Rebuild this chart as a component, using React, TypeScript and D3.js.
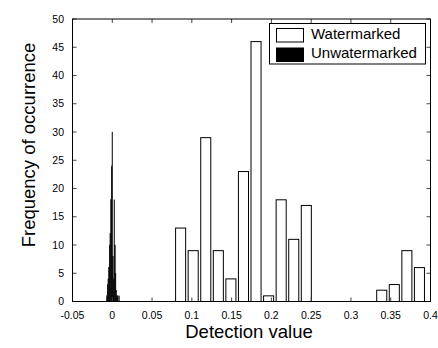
import React from 'react';
import * as d3 from 'd3';

// watermarked histogram: bin centres and counts (20 bins)
const wmCenters = [
  0.0859, 0.1017, 0.1175, 0.1333, 0.1491, 0.1649, 0.1807, 0.1965, 0.2123, 0.2281,
  0.2439, 0.2597, 0.2755, 0.2913, 0.3071, 0.3229, 0.3387, 0.3545, 0.3703, 0.3861,
];
const wmCounts = [13, 9, 29, 9, 4, 23, 46, 1, 18, 11, 17, 0, 0, 0, 0, 0, 2, 3, 9, 6];
const wmBinWidth = 0.0158;

// unwatermarked histogram: narrow spike around zero (20 bins)
const unCenters = [
  -0.0068, -0.006, -0.0051, -0.0043, -0.0034, -0.0026, -0.0017, -0.0009, 0.0, 0.0008,
  0.0017, 0.0025, 0.0034, 0.0042, 0.0051, 0.0059, 0.0068, 0.0076, 0.0085, 0.0093,
];
const unCounts = [1, 3, 4, 6, 10, 12, 18, 24, 30, 8, 4, 18, 10, 5, 2, 1, 1, 0, 1, 0];
const unBinWidth = 0.00085;

const xTicks = [-0.05, 0, 0.05, 0.1, 0.15, 0.2, 0.25, 0.3, 0.35, 0.4];
const xTickLabels = ['-0.05', '0', '0.05', '0.1', '0.15', '0.2', '0.25', '0.3', '0.35', '0.4'];
const yTicks = [0, 5, 10, 15, 20, 25, 30, 35, 40, 45, 50];

const legendItems = [
  { label: 'Watermarked', fill: '#fff' },
  { label: 'Unwatermarked', fill: '#000' },
];

const W = 438;
const H = 348;
const left = 72.5, right = 430.5, top = 19, bottom = 301.5;
const font = 'Arial, "Liberation Sans", Helvetica, sans-serif';

export default function App() {
  const x = d3.scaleLinear().domain([-0.05, 0.4]).range([left, right]);
  const y = d3.scaleLinear().domain([0, 50]).range([bottom, top]);
  const tickLen = 4;

  const barRect = (c: number, n: number, bw: number) => {
    const x0 = x(c - (bw * 0.8) / 2);
    const x1 = x(c + (bw * 0.8) / 2);
    return { x: x0, y: y(n), width: x1 - x0, height: y(0) - y(n) };
  };

  return (
    <svg width={W} height={H} style={{ position: 'absolute', left: 0, top: 0, background: '#fff' }}
      fontFamily={font}>
      {/* watermarked bars */}
      {wmCounts.map((n, i) => {
        if (n === 0) return null;
        const r = barRect(wmCenters[i], n, wmBinWidth);
        return <rect key={'w' + i} {...r} fill="#fff" stroke="#000" strokeWidth={1} />;
      })}
      {/* unwatermarked bars */}
      {unCounts.map((n, i) => {
        if (n === 0) return null;
        const r = barRect(unCenters[i], n, unBinWidth);
        return <rect key={'u' + i} {...r} fill="#000" stroke="#000" strokeWidth={0.5} />;
      })}

      {/* ticks, all pointing inward */}
      {xTicks.map((t, i) => (
        <g key={'xt' + i} stroke="#444" strokeWidth={1}>
          <line x1={x(t)} x2={x(t)} y1={bottom} y2={bottom - tickLen} />
          <line x1={x(t)} x2={x(t)} y1={top} y2={top + tickLen} />
        </g>
      ))}
      {yTicks.map((t, i) => (
        <g key={'yt' + i} stroke="#444" strokeWidth={1}>
          <line x1={left} x2={left + tickLen} y1={y(t)} y2={y(t)} />
          <line x1={right} x2={right - tickLen} y1={y(t)} y2={y(t)} />
        </g>
      ))}

      {/* frame */}
      <rect x={left} y={top} width={right - left} height={bottom - top} fill="none" stroke="#000" strokeWidth={1} />

      {/* tick labels */}
      {xTicks.map((t, i) => (
        <text key={'xl' + i} x={x(t)} y={318.5} textAnchor="middle" fontSize={10.5} fill="#000">
          {xTickLabels[i]}
        </text>
      ))}
      {yTicks.map((t, i) => (
        <text key={'yl' + i} x={64} y={y(t)} dy="0.35em" textAnchor="end" fontSize={10.5} fill="#000">
          {t}
        </text>
      ))}

      {/* axis titles */}
      <text x={249} y={338} textAnchor="middle" fontSize={18.5} fill="#000">Detection value</text>
      <text transform="translate(35,145) rotate(-90)" textAnchor="middle" fontSize={18.5} fill="#000">
        Frequency of occurrence
      </text>

      {/* legend */}
      <rect x={269.5} y={23.5} width={156} height={40.5} fill="#fff" stroke="#000" strokeWidth={1} />
      {legendItems.map((d, i) => (
        <g key={'lg' + i}>
          <rect x={276.5} y={28.5 + i * 19.5} width={27} height={13.5} fill={d.fill} stroke="#000" strokeWidth={1} />
          <text x={311} y={38.8 + i * 19.5} fontSize={15} fill="#000">{d.label}</text>
        </g>
      ))}
    </svg>
  );
}
